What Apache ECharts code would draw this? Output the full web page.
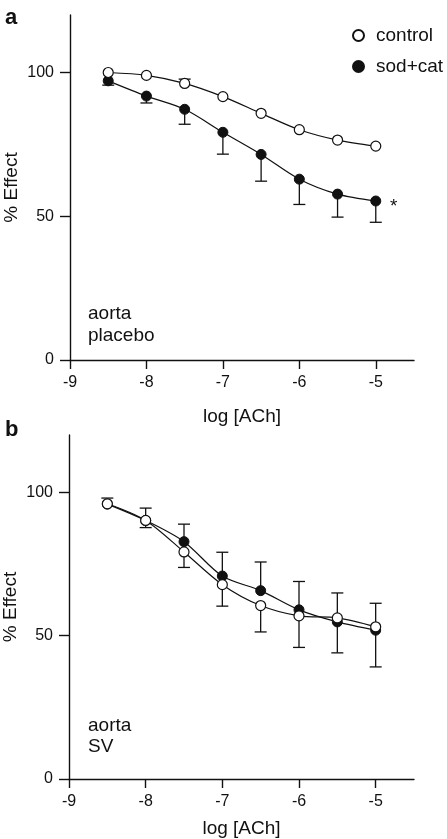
<!DOCTYPE html>
<html><head><meta charset="utf-8">
<script src="https://cdn.jsdelivr.net/npm/echarts@6/dist/echarts.min.js"></script>
<style>html,body{margin:0;padding:0;background:#fff}#c{width:447px;height:839px}</style>
</head><body><div id="c"></div>
<script>
var logACh = [-8.5, -8, -7.5, -7, -6.5, -6, -5.5, -5];
var xTicks = [-9, -8, -7, -6, -5];
var yTicks = [0, 50, 100];
// panel a (aorta placebo)
var aControl = [100, 99, 96.2, 91.6, 85.8, 80.1, 76.5, 74.4];
var aControlErr = [0, 0, 1.5, 0, 0, 0, 0, 0];      // upward
var aSod = [97.1, 91.8, 87.2, 79.2, 71.5, 62.9, 57.7, 55.3];
var aSodErr = [1.5, 2.4, 5.2, 7.6, 9.3, 8.8, 8.0, 7.4]; // downward
// panel b (aorta SV)
var bControl = [96, 90.2, 79.2, 67.8, 60.5, 56.9, 56.2, 53.1];
var bControlErr = [0, 2.5, 5.4, 7.5, 9.2, 11, 12.2, 14];  // downward
var bSod = [95.9, 90.2, 82.8, 70.8, 65.7, 59.0, 54.8, 51.9];
var bSodErr = [2.1, 4.3, 6.1, 8.3, 10, 9.9, 10.1, 9.4];   // upward

var FONT = "'Liberation Sans', Arial, Helvetica, sans-serif";
var INK = '#111';

function pts(ys) { return logACh.map(function (x, i) { return [x, ys[i]]; }); }
function errPts(ys, errs, sign) {
  return logACh.map(function (x, i) { return [x, ys[i], sign * errs[i]]; });
}
function errSeries(ys, errs, sign, idx) {
  return {
    type: 'custom', xAxisIndex: idx, yAxisIndex: idx, z: 1, silent: true,
    data: errPts(ys, errs, sign),
    renderItem: function (params, api) {
      var e = api.value(2);
      if (!e) return null;
      var p0 = api.coord([api.value(0), api.value(1)]);
      var p1 = api.coord([api.value(0), api.value(1) + e]);
      var w = 6;
      var st = { stroke: INK, lineWidth: 1.3 };
      return { type: 'group', children: [
        { type: 'line', shape: { x1: p0[0], y1: p0[1], x2: p1[0], y2: p1[1] }, style: st },
        { type: 'line', shape: { x1: p1[0] - w, y1: p1[1], x2: p1[0] + w, y2: p1[1] }, style: st }
      ] };
    }
  };
}
function lineSeries(name, ys, open, idx, z) {
  return {
    name: name, type: 'line', xAxisIndex: idx, yAxisIndex: idx, z: z,
    data: pts(ys), smooth: 0.3, symbol: 'circle', symbolSize: 10,
    lineStyle: { color: INK, width: 1.2 },
    itemStyle: open ? { color: '#fff', borderColor: INK, borderWidth: 1.2 }
                    : { color: INK, borderColor: INK, borderWidth: 1 },
    emphasis: { disabled: true }, animation: false
  };
}
function xAxis(idx, gap) {
  return {
    type: 'value', gridIndex: idx, min: -9, max: -4.5,
    name: 'log [ACh]', nameLocation: 'middle', nameGap: gap, nameMoveOverlap: false,
    nameTextStyle: { fontFamily: FONT, fontSize: 19, color: INK },
    axisLine: { onZero: false, lineStyle: { color: INK, width: 1.4 } },
    axisTick: { length: 9, lineStyle: { color: INK, width: 1.4 }, customValues: xTicks },
    axisLabel: { margin: 15, fontFamily: FONT, fontSize: 16, color: INK, customValues: xTicks },
    splitLine: { show: false }
  };
}
function yAxis(idx) {
  return {
    type: 'value', gridIndex: idx, min: 0, max: 120,
    name: '% Effect', nameLocation: 'middle', nameGap: 49, nameMoveOverlap: false,
    nameTextStyle: { fontFamily: FONT, fontSize: 19, color: INK },
    axisLine: { show: true, onZero: false, lineStyle: { color: INK, width: 1.4 } },
    axisTick: { show: true, length: 10, lineStyle: { color: INK, width: 1.4 }, customValues: yTicks },
    axisLabel: { margin: 16, fontFamily: FONT, fontSize: 16, color: INK, customValues: yTicks },
    splitLine: { show: false }
  };
}
function txt(s, x, y, size, bold) {
  return { type: 'text', x: x, y: y, silent: true,
    style: { text: s, fontFamily: FONT, fontSize: size, fontWeight: bold ? 'bold' : 'normal',
             fill: INK, verticalAlign: 'middle', align: 'left' } };
}

var chart = echarts.init(document.getElementById('c'), null, { renderer: 'canvas' });
chart.setOption({
  animation: false,
  backgroundColor: '#fff',
  grid: [
    { left: 70, top: 15, right: 33, bottom: 479, containLabel: false, outerBoundsMode: 'none' },
    { left: 69, top: 435, right: 33, bottom: 60, containLabel: false, outerBoundsMode: 'none' }
  ],
  xAxis: [xAxis(0, 47), xAxis(1, 40)],
  yAxis: [yAxis(0), yAxis(1)],
  legend: {
    data: ['control', 'sod+cat'], orient: 'vertical', left: 347, top: 21,
    itemWidth: 11, itemHeight: 11, itemGap: 12, icon: 'circle',
    textStyle: { fontFamily: FONT, fontSize: 19, color: INK, padding: [0, 0, 0, 7] },
    selectedMode: false
  },
  graphic: [
    txt('a', 5, 18, 22, true),
    txt('b', 5, 430, 22, true),
    txt('aorta', 88, 313.7, 19),
    txt('placebo', 88, 335.7, 19),
    txt('aorta', 88, 725.4, 19),
    txt('SV', 88, 747, 19),
    txt('*', 390, 207, 19)
  ],
  series: [
    errSeries(aControl, aControlErr, 1, 0),
    errSeries(aSod, aSodErr, -1, 0),
    lineSeries('sod+cat', aSod, false, 0, 2),
    lineSeries('control', aControl, true, 0, 3),
    errSeries(bSod, bSodErr, 1, 1),
    errSeries(bControl, bControlErr, -1, 1),
    lineSeries('sod+cat', bSod, false, 1, 2),
    lineSeries('control', bControl, true, 1, 3)
  ]
});
</script></body></html>
